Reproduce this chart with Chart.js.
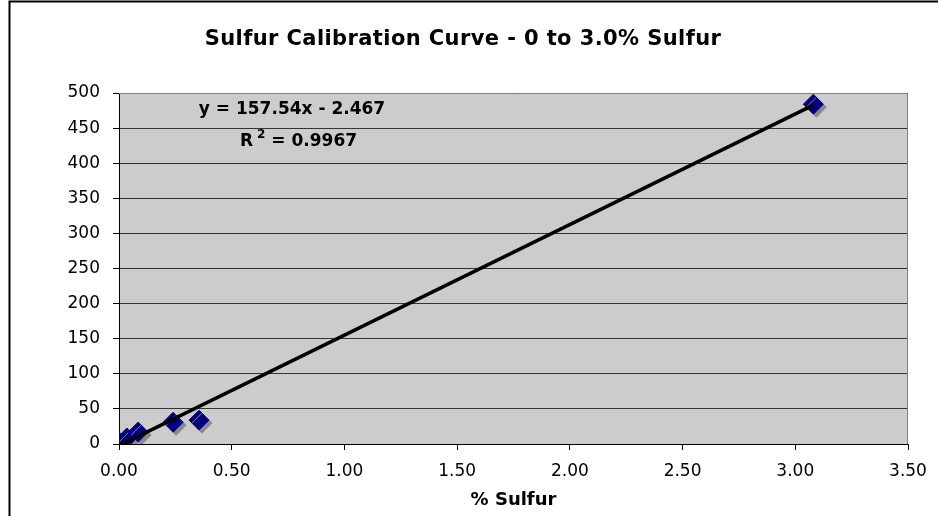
<!DOCTYPE html>
<html>
<head>
<meta charset="utf-8">
<script src="https://cdn.jsdelivr.net/npm/chart.js@4"></script>
<style>
  body { margin: 0; background: #fff; }
</style>
</head>
<body>
<canvas id="calChart" width="938" height="516"></canvas>
<script>
// standards
let sulfurPct = [0.00, 0.035, 0.085, 0.24, 0.355, 3.08];
let response = [3, 8.5, 17, 31, 34, 484];

// linear trendline end points (y = 157.54x - 2.467)
let trendX = [0.0, 3.08];
let trendY = [-2.5, 482.8];

let xTicks = [0, 0.5, 1, 1.5, 2, 2.5, 3, 3.5];
let yTicks = [0, 50, 100, 150, 200, 250, 300, 350, 400, 450, 500];

const FONT = 'Verdana, "DejaVu Sans", sans-serif';

let framePlugin = {
  id: 'frame',
  beforeDraw(chart) {
    const ctx = chart.ctx;
    const a = chart.chartArea;
    ctx.save();
    ctx.fillStyle = '#fff';
    ctx.fillRect(0, 0, chart.width, chart.height);
    ctx.strokeStyle = '#000';
    ctx.lineWidth = 2;
    ctx.beginPath();
    ctx.moveTo(9.5, chart.height);
    ctx.lineTo(9.5, 1.5);
    ctx.lineTo(chart.width, 1.5);
    ctx.stroke();
    ctx.fillStyle = '#cccccc';
    ctx.fillRect(a.left, a.top, a.right - a.left, a.bottom - a.top);
    ctx.fillStyle = '#000';
    ctx.font = 'bold 21px ' + FONT;
    ctx.letterSpacing = '0.4px';
    ctx.textAlign = 'center';
    ctx.textBaseline = 'middle';
    ctx.fillText('Sulfur Calibration Curve - 0 to 3.0% Sulfur', 463, 40);
    ctx.restore();
  },
  beforeDatasetsDraw(chart) {
    const ctx = chart.ctx;
    const a = chart.chartArea;
    ctx.save();
    ctx.strokeStyle = '#808080';
    ctx.lineWidth = 1;
    ctx.beginPath();
    ctx.moveTo(a.left, a.top + 0.5);
    ctx.lineTo(a.right - 0.5, a.top + 0.5);
    ctx.lineTo(a.right - 0.5, a.bottom);
    ctx.stroke();
    ctx.restore();
  },
  beforeDatasetDraw(chart, args) {
    if (args.index !== 1) return;
    const ctx = chart.ctx;
    ctx.save();
    ctx.shadowColor = '#8a8a8a';
    ctx.shadowOffsetX = 3;
    ctx.shadowOffsetY = 3;
    ctx.shadowBlur = 0;
  },
  afterDatasetDraw(chart, args) {
    if (args.index !== 1) return;
    chart.ctx.restore();
  },
  afterDatasetsDraw(chart) {
    const ctx = chart.ctx;
    const a = chart.chartArea;
    ctx.save();
    ctx.fillStyle = '#000';
    ctx.font = 'bold 17px ' + FONT;
    ctx.textAlign = 'center';
    ctx.textBaseline = 'middle';
    ctx.fillText('y = 157.54x - 2.467', a.left + 173, 110);

    // R squared with a raised 2
    ctx.textAlign = 'left';
    let x0 = a.left + 121;
    ctx.fillText('R', x0, 142);
    let rw = ctx.measureText('R ').width;
    ctx.font = 'bold 12px ' + FONT;
    ctx.fillText('2', x0 + rw - 2, 135);
    let sw = ctx.measureText('2').width;
    ctx.font = 'bold 17px ' + FONT;
    ctx.fillText(' = 0.9967', x0 + rw - 2 + sw, 142);
    ctx.restore();
  }
};

let calChart = new Chart(document.getElementById('calChart'), {
  type: 'scatter',
  data: {
    datasets: [{
      label: 'Linear (Sulfur)',
      data: trendX.map((x, i) => ({ x: x, y: trendY[i] })),
      showLine: true,
      borderColor: '#000',
      borderWidth: 3.5,
      pointRadius: 0,
      order: 0,
    }, {
      label: 'Sulfur',
      data: sulfurPct.map((x, i) => ({ x: x, y: response[i] })),
      pointStyle: 'rectRot',
      pointRadius: 10,
      pointBackgroundColor: '#000080',
      pointBorderColor: '#000080',
      pointBorderWidth: 1,
      order: 1,
    }],
  },
  options: {
    responsive: false,
    animation: false,
    layout: {
      padding: { top: 93, right: 30, bottom: 0, left: 0 }
    },
    plugins: {
      legend: { display: false },
      tooltip: { enabled: false },
    },
    scales: {
      x: {
        type: 'linear',
        min: 0,
        max: 3.5,
        afterFit(s) { s.height = 72; },
        afterBuildTicks(s) { s.ticks = xTicks.map(v => ({ value: v })); },
        ticks: {
          padding: 11,
          color: '#000',
          font: { family: FONT, size: 17 },
          callback: v => Number(v).toFixed(2),
        },
        grid: {
          drawOnChartArea: false,
          drawTicks: true,
          tickLength: 6,
          color: '#000',
        },
        border: { color: '#000', width: 1 },
        title: {
          display: true,
          text: '% Sulfur',
          color: '#000',
          font: { family: FONT, size: 18, weight: 'bold' },
          padding: { top: 0, bottom: 5 },
        },
      },
      y: {
        min: 0,
        max: 500,
        afterFit(s) { s.width = 119; },
        afterBuildTicks(s) { s.ticks = yTicks.map(v => ({ value: v })); },
        ticks: {
          padding: 13,
          color: '#000',
          font: { family: FONT, size: 17 },
        },
        grid: {
          color: '#333',
          lineWidth: 1,
          tickLength: 6,
          tickColor: '#000',
        },
        border: { color: '#000', width: 1 },
      },
    },
  },
  plugins: [framePlugin],
});
</script>
</body>
</html>
